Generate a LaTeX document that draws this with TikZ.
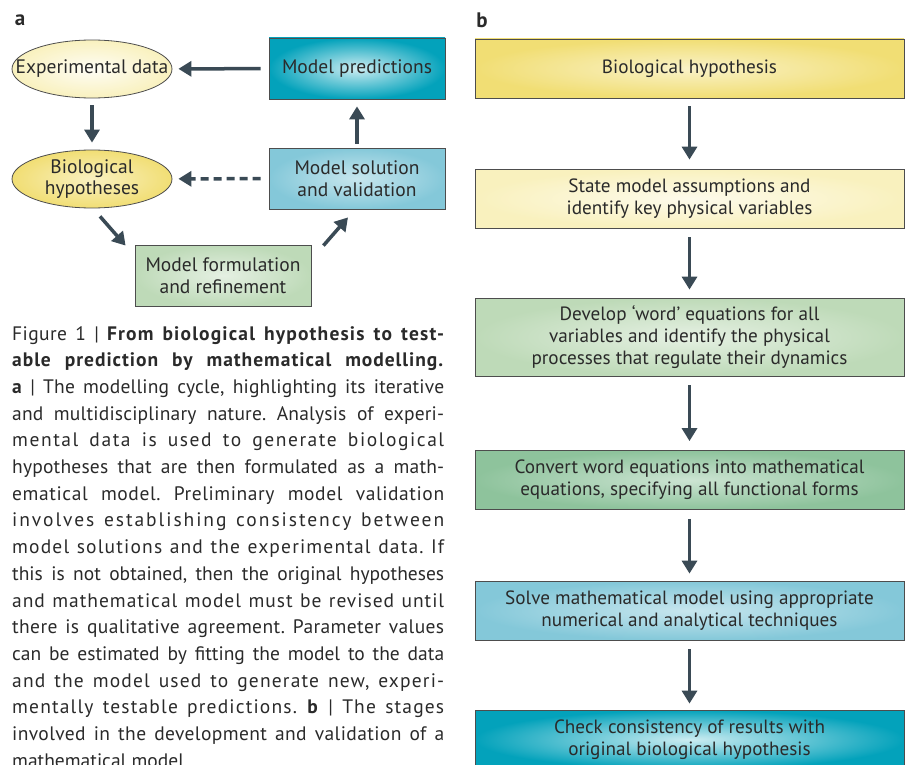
\documentclass[tikz,border=0pt]{standalone}
\usepackage{fontspec}
\setmainfont{PT Sans}
\usetikzlibrary{arrows.meta,shapes.geometric}

\definecolor{arrowgray}{HTML}{3A4A55}
\definecolor{textgray}{HTML}{2A2A2A}
\definecolor{edgegray}{HTML}{4D4D4D}
\definecolor{paleyellow}{HTML}{F9F1BE}
\definecolor{yellow}{HTML}{F1DE74}
\definecolor{teal}{HTML}{03A2BB}
\definecolor{lightblue}{HTML}{84C8D9}
\definecolor{lightgreen}{HTML}{BEDAB8}
\definecolor{midgreen}{HTML}{8EC39C}

\hfuzz=40pt
\frenchspacing
\newcommand{\spaced}[2]{{\addfontfeature{LetterSpace=#1}#2}}

\tikzset{
	every node/.style={text=textgray},
	flow/.style={line width=3.5bp, draw=arrowgray, -{Triangle[length=13bp,width=15bp]}},
	oval/.style={ellipse, draw=edgegray, line width=0.8bp, minimum width=160bp, minimum height=58bp, inner xsep=-22bp, inner ysep=0pt, align=center, font=\fontsize{19.5bp}{21.5bp}\selectfont},
	cyclebox/.style={rectangle, draw=edgegray, line width=0.8bp, minimum width=176bp, minimum height=61bp, inner sep=0pt, align=center, font=\fontsize{19.5bp}{21.5bp}\selectfont},
	stagebox/.style={rectangle, draw=edgegray, line width=0.8bp, minimum width=429bp, minimum height=59bp, inner sep=0pt, align=center, font=\fontsize{19.2bp}{22bp}\selectfont},
	panel/.style={font=\bfseries\fontsize{21bp}{21bp}\selectfont, inner sep=0pt}
}

\begin{document}
\begin{tikzpicture}[x=1bp,y=-1bp]
	\clip (0,0) rectangle (911,765);
	% Panel a: the modelling cycle
	\node[panel] (laba) at (20,20) {a};
	\node[oval, shade, inner color=white!85!paleyellow, outer color=paleyellow] (ed) at (92,69) {Experimental data};
	\node[oval, shade, inner color=white!55!yellow, outer color=yellow] (bh) at (92,179) {Biological\\hypotheses};
	\node[cyclebox, shade, inner color=white!80!teal, outer color=teal] (mp) at (357,68.5) {Model predictions};
	\node[cyclebox, shade, inner color=white!55!lightblue, outer color=lightblue] (msv) at (357,178.5) {Model solution\\and validation};
	\node[cyclebox, shade, inner color=white!60!lightgreen, outer color=lightgreen] (mf) at (223,275.5) {Model formulation\\and refinement};
	\draw[flow, shorten <=8bp, shorten >=6bp] (mp) -- (ed);
	\draw[flow, shorten <=7bp, shorten >=7bp] (ed) -- (bh);
	\draw[flow, dash pattern=on 8bp off 5bp, shorten <=8bp, shorten >=6bp] (msv) -- (bh);
	\draw[flow, shorten <=4bp, shorten >=7bp] (msv) -- (mp);
	\draw[flow] ([shift={(8,8)}]bh.south) -- ([shift={(-9,1)}]mf.north west);
	\draw[flow] ([shift={(12,1)}]mf.north east) -- ([shift={(-9,8)}]msv.south);
	% Caption
	\node[anchor=north west, inner sep=0pt, text width=432bp, align=justify,
		font=\fontsize{19.5bp}{26.7bp}\selectfont] (cap) at (12,326) {%
		\spaced{2}{Figure 1 |} \spaced{6}{\textbf{From biological hypothesis to test-}}\linebreak
		\spaced{5}{\textbf{able prediction by mathematical modelling.}}\linebreak
		\spaced{1}{\textbf{a} | The modelling cycle, highlighting its iterative}\linebreak
		\spaced{1}{and multidisciplinary nature. Analysis of experi-}\linebreak
		\spaced{8}{mental data is used to generate biological}\linebreak
		\spaced{1}{hypotheses that are then formulated as a math-}\linebreak
		\spaced{3}{ematical model. Preliminary model validation}\linebreak
		\spaced{10}{involves establishing consistency between}\linebreak
		\spaced{6}{model solutions and the experimental data. If}\linebreak
		this is not obtained, then the original hypotheses\linebreak
		\spaced{5}{and mathematical model must be revised until}\linebreak
		\spaced{2}{there is qualitative agreement. Parameter values}\linebreak
		can be estimated by fitting the model to the data\linebreak
		\spaced{6}{and the model used to generate new, experi-}\linebreak
		\spaced{6}{mentally testable predictions. \textbf{b} | The stages}\linebreak
		\spaced{2}{involved in the development and validation of a}\linebreak
		mathematical model.};
	% Panel b: stages of model development
	\node[panel] (labb) at (482,20) {b};
	\node[stagebox, shade, inner color=white!60!yellow, outer color=yellow] (hyp) at (689.5,68.5) {Biological hypothesis};
	\node[stagebox, shade, inner color=white!70!paleyellow, outer color=paleyellow] (assum) at (689.5,198.5) {State model assumptions and\\identify key physical variables};
	\node[stagebox, minimum height=78bp, shade, inner color=white!60!lightgreen, outer color=lightgreen] (wordeq) at (689.5,337) {Develop `word' equations for all\\variables and identify the physical\\processes that regulate their dynamics};
	\node[stagebox, shade, inner color=white!55!midgreen, outer color=midgreen] (matheq) at (689.5,480) {Convert word equations into mathematical\\equations, specifying all functional forms};
	\node[stagebox, shade, inner color=white!55!lightblue, outer color=lightblue] (solve) at (689.5,610.5) {Solve mathematical model using appropriate\\numerical and analytical techniques};
	\node[stagebox, shade, inner color=white!80!teal, outer color=teal] (check) at (689.5,739.5) {Check consistency of results with\\original biological hypothesis};
	\draw[flow, shorten <=8bp, shorten >=9bp] (hyp) -- (assum);
	\draw[flow, shorten <=9bp, shorten >=8bp] (assum) -- (wordeq);
	\draw[flow, shorten <=9bp, shorten >=9bp] (wordeq) -- (matheq);
	\draw[flow, shorten <=9bp, shorten >=7bp] (matheq) -- (solve);
	\draw[flow, shorten <=9bp, shorten >=6bp] (solve) -- (check);
\end{tikzpicture}
\end{document}
